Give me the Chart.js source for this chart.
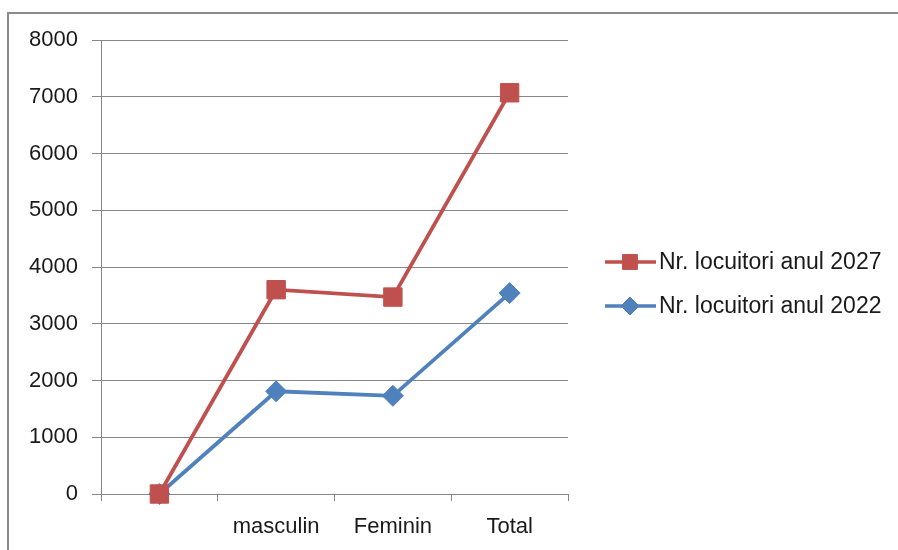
<!DOCTYPE html>
<html>
<head>
<meta charset="utf-8">
<script src="https://cdn.jsdelivr.net/npm/chart.js@4.4.1/dist/chart.umd.min.js"></script>
<style>
  html, body { margin: 0; padding: 0; background: #fff; }
  #wrap { position: relative; width: 898px; height: 550px; overflow: hidden; }
  #frame { position: absolute; left: 7px; top: 12px; width: 900px; height: 600px;
           border-left: 2px solid #8a8a8a; border-top: 2px solid #8a8a8a; box-sizing: border-box; }
  canvas { position: absolute; left: 0; top: 0; }
</style>
</head>
<body>
<div id="wrap">
  <div id="frame"></div>
  <canvas id="c" width="898" height="550"></canvas>
</div>
<script>
const categories = ["", "masculin", "Feminin", "Total"];
const seriesNames = ["Nr. locuitori anul 2027", "Nr. locuitori anul 2022"];
const values2027 = [0, 3600, 3470, 7070];
const values2022 = [0, 1810, 1730, 3540];
const yTicks = [0, 1000, 2000, 3000, 4000, 5000, 6000, 7000, 8000];

const RED = "#C0504D";
const BLUE = "#4F81BD";
const GRID = "#868686";
const FONT = "'Liberation Sans', Arial, sans-serif";

const legendPlugin = {
  id: "sideLegend",
  afterDraw(chart) {
    const ctx = chart.ctx;
    const ys = [262, 306];
    chart.data.datasets.forEach((ds, i) => {
      const y = ys[i];
      ctx.save();
      ctx.strokeStyle = ds.borderColor;
      ctx.lineWidth = 3.5;
      ctx.beginPath();
      ctx.moveTo(605, y);
      ctx.lineTo(656, y);
      ctx.stroke();
      ctx.fillStyle = ds.pointBackgroundColor;
      ctx.strokeStyle = ds.pointBorderColor;
      ctx.lineWidth = 1;
      Chart.helpers.drawPoint(ctx, {
        pointStyle: ds.pointStyle,
        radius: ds.pointStyle === "rect" ? 10.5 : 9,
        rotation: 0,
        borderWidth: 1
      }, 630, y);
      ctx.fillStyle = "#1a1a1a";
      ctx.font = "23px " + FONT;
      ctx.textBaseline = "middle";
      ctx.textAlign = "left";
      ctx.fillText(ds.label, 659, y + 1);
      ctx.restore();
    });
  }
};

new Chart(document.getElementById("c"), {
  type: "line",
  data: {
    labels: categories,
    datasets: [
      {
        label: seriesNames[0],
        data: values2027,
        borderColor: RED,
        backgroundColor: RED,
        pointBackgroundColor: RED,
        pointBorderColor: RED,
        borderWidth: 3.8,
        pointStyle: "rect",
        pointRadius: 13,
        pointBorderWidth: 1,
        tension: 0,
        clip: false
      },
      {
        label: seriesNames[1],
        data: values2022,
        borderColor: BLUE,
        backgroundColor: BLUE,
        pointBackgroundColor: BLUE,
        pointBorderColor: BLUE,
        borderWidth: 3.8,
        pointStyle: "rectRot",
        pointRadius: 10.5,
        pointBorderWidth: 1,
        tension: 0,
        clip: false
      }
    ]
  },
  options: {
    responsive: false,
    animation: false,
    layout: { padding: { left: 0, top: 40, right: 330, bottom: 0 } },
    plugins: { legend: { display: false }, tooltip: { enabled: false } },
    scales: {
      x: {
        type: "category",
        offset: true,
        afterFit(scale) { scale.height = 56; },
        grid: {
          offset: true,
          drawOnChartArea: false,
          drawTicks: true,
          tickLength: 7,
          color: GRID,
          lineWidth: 1
        },
        border: { display: true, color: GRID, width: 1 },
        ticks: {
          color: "#1a1a1a",
          font: { size: 22, family: FONT },
          padding: 13,
          maxRotation: 0,
          autoSkip: false
        }
      },
      y: {
        min: 0,
        max: 8000,
        afterFit(scale) { scale.width = 101; },
        afterBuildTicks(scale) { scale.ticks = yTicks.map(v => ({ value: v })); },
        grid: {
          color: GRID,
          lineWidth: 1,
          drawTicks: true,
          tickLength: 9
        },
        border: { display: true, color: GRID, width: 1 },
        ticks: {
          color: "#1a1a1a",
          font: { size: 22, family: FONT },
          padding: 14,
          callback: (v) => String(v)
        }
      }
    }
  },
  plugins: [legendPlugin]
});
</script>
</body>
</html>
